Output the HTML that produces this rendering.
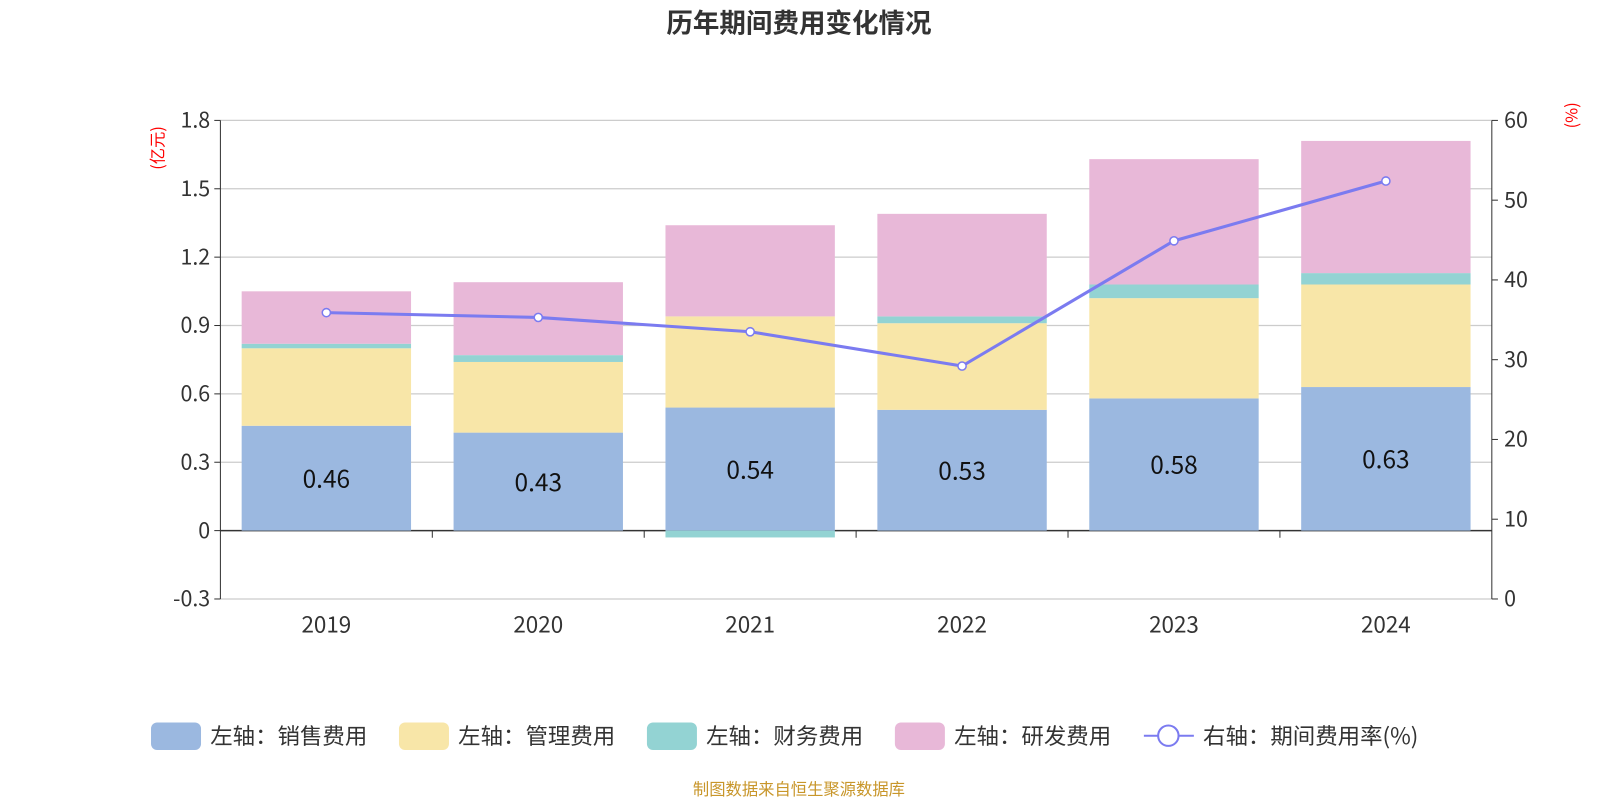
<!DOCTYPE html>
<html><head><meta charset="utf-8"><style>
body{margin:0;background:#fff;font-family:"Noto Sans CJK SC","Liberation Sans",sans-serif}
svg text{font-family:"Noto Sans CJK SC","Liberation Sans",sans-serif}
</style></head><body>
<svg width="1600" height="800" xmlns="http://www.w3.org/2000/svg"><g id="c" transform="scale(1.0204)"></g></svg>
<script>
const categories=["2019","2020","2021","2022","2023","2024"];
const sales=[0.46,0.43,0.54,0.53,0.58,0.63];
const admin=[0.34,0.31,0.40,0.38,0.44,0.45];
const finance=[0.02,0.03,-0.03,0.03,0.06,0.05];
const rnd=[0.23,0.32,0.40,0.45,0.55,0.58];
const rate=[35.9,35.3,33.5,29.2,44.9,52.4];
const leftTicks=[-0.3,0,0.3,0.6,0.9,1.2,1.5,1.8];
const rightTicks=[0,10,20,30,40,50,60];
const svg=document.getElementById('c');const NS='http://www.w3.org/2000/svg';
function mk(t,a,txt){const e=document.createElementNS(NS,t);for(const k in a)e.setAttribute(k,a[k]);if(txt!==undefined)e.textContent=txt;svg.appendChild(e);return e;}
const X0=216,X1=1462,band=(X1-X0)/categories.length,bw=166;
const yL=v=>520-v*(402/1.8);
const yR=v=>587-v*(469/60);
const xC=i=>X0+band*(i+0.5);
let e=mk('text',{x:783,y:32,'text-anchor':'middle','font-size':26,'font-weight':'bold',fill:'#333'},'历年期间费用变化情况');

leftTicks.forEach(t=>{const y=yL(t);
 e=mk('line',{x1:X0,x2:X1,y1:y,y2:y,stroke:t===0?'#333':'#ccc','stroke-width':t===0?1.5:1.2});
 
 e=mk('line',{x1:X0-6,x2:X0,y1:y,y2:y,stroke:'#333'});
 
 e=mk('text',{x:X0-10,y:y+7,'text-anchor':'end','font-size':21,fill:'#333'},String(t));
 });
rightTicks.forEach(t=>{const y=yR(t);
 e=mk('line',{x1:X1,x2:X1+6,y1:y,y2:y,stroke:'#333'});
 
 e=mk('text',{x:X1+12,y:y+7,'font-size':21,fill:'#333'},String(t));
 });
e=mk('line',{x1:X0,x2:X0,y1:118,y2:587,stroke:'#333'});
e=mk('line',{x1:X1,x2:X1,y1:118,y2:587,stroke:'#333'});
e=mk('text',{x:0,y:0,'font-size':16,fill:'red','text-anchor':'middle',transform:'translate(160,145) rotate(-90)'},'(亿元)');
e=mk('text',{x:0,y:0,'font-size':16,fill:'red','text-anchor':'middle',transform:'translate(1546,113) rotate(-90)'},'(%)');
const cols=['#9bb8e0','#f8e6a8','#93d3d3','#e8b8d8'];
const series=[sales,admin,finance,rnd];const sn=['sales','admin','finance','rnd'];
categories.forEach((c,i)=>{let pos=0,neg=0;const x=xC(i)-bw/2;
 series.forEach((s,k)=>{const v=s[i];let y0,y1;
  if(v>=0){y0=pos;y1=pos+v;pos=y1;}else{y0=neg;y1=neg+v;neg=y1;}
  const r=mk('rect',{x:x,width:bw,y:Math.min(yL(y0),yL(y1)),height:Math.abs(yL(y0)-yL(y1)),fill:cols[k]});
  });
 e=mk('text',{x:xC(i),y:yL(sales[i]/2)+9,'text-anchor':'middle','font-size':24,fill:'#111'},sales[i].toFixed(2));
 
 e=mk('text',{x:xC(i),y:620,'text-anchor':'middle','font-size':22,fill:'#333'},c);
 
 if(i>0){e=mk('line',{x1:X0+band*i,x2:X0+band*i,y1:520,y2:527,stroke:'#333'});}});
e=mk('polyline',{points:rate.map((v,i)=>xC(i)+','+yR(v)).join(' '),fill:'none',stroke:'#7b7bf0','stroke-width':3});

rate.forEach((v,i)=>{e=mk('circle',{cx:xC(i),cy:yR(v),r:4,fill:'#fff',stroke:'#7b7bf0','stroke-width':1.5});
 });
const leg=[['左轴：销售费用',148],['左轴：管理费用',391],['左轴：财务费用',634],['左轴：研发费用',877]];
leg.forEach((l,k)=>{e=mk('rect',{x:l[1],y:708,width:49,height:27,rx:6,fill:cols[k]});
 
 e=mk('text',{x:l[1]+58,y:729,'font-size':22,fill:'#333'},l[0]);
 });
e=mk('line',{x1:1121,x2:1170,y1:721,y2:721,stroke:'#7b7bf0','stroke-width':2});
e=mk('circle',{cx:1145,cy:721,r:10,fill:'#fff',stroke:'#7b7bf0','stroke-width':2});
e=mk('text',{x:1179,y:729,'font-size':22,fill:'#333'},'右轴：期间费用率(%)');
e=mk('text',{x:783,y:779,'text-anchor':'middle','font-size':16,fill:'#c8962a'},'制图数据来自恒生聚源数据库');
</script></body></html>
